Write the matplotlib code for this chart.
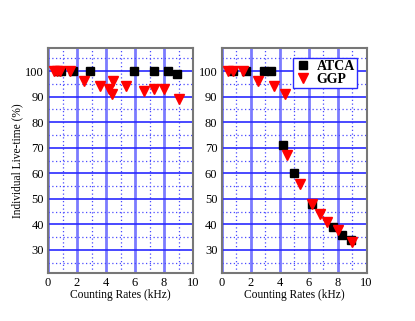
import numpy as np
import matplotlib
matplotlib.use("Agg")
import matplotlib.pyplot as plt
from matplotlib.ticker import MultipleLocator

plt.rcParams['font.family'] = ['Liberation Serif', 'DejaVu Serif']

# left panel
atca_x_l = [0.7, 0.9, 1.7, 2.9, 5.9, 7.3, 8.3, 8.9]
atca_y_l = [100, 100, 100, 100, 100, 100, 100, 99]
ggp_x_l = [0.4, 0.6, 0.8, 1.5, 2.5, 3.6, 4.2, 4.4, 4.5, 5.4, 6.6, 7.3, 8.0, 9.0]
ggp_y_l = [100, 100, 100, 100, 96, 94, 93, 91, 96, 94, 92, 93, 93, 89]

# right panel
atca_x_r = [0.8, 1.7, 2.9, 3.4, 4.2, 5.0, 6.2, 7.7, 8.3, 8.9]
atca_y_r = [100, 100, 100, 100, 71, 60, 48, 39, 36, 34]
ggp_x_r = [0.45, 0.8, 1.5, 2.5, 3.6, 4.4, 4.5, 5.4, 6.2, 6.8, 7.3, 8.0, 9.0]
ggp_y_r = [100, 100, 100, 96, 94, 91, 67, 56, 48, 44, 41, 38, 33]

fig = plt.figure(figsize=(4.15, 3.21), dpi=100)
ax1 = fig.add_axes([0.1157, 0.1495, 0.3494, 0.701])
ax2 = fig.add_axes([0.534, 0.1495, 0.3494, 0.701])


def style_axes(ax):
    ax.set_xlim(0, 10)
    ax.set_ylim(21, 109)
    ax.xaxis.set_major_locator(MultipleLocator(2))
    ax.xaxis.set_minor_locator(MultipleLocator(1))
    ax.yaxis.set_major_locator(MultipleLocator(10))
    ax.yaxis.set_minor_locator(MultipleLocator(5))
    ax.set_yticks(np.arange(30, 101, 10))
    ax.grid(axis='x', which='major', color='#7b7bff', linewidth=2.0)
    ax.grid(axis='y', which='major', color='#2a2aff', linewidth=1.2)
    ax.grid(which='minor', color='#4a4aff', linestyle=(0, (1, 2)), linewidth=0.9)
    ax.set_axisbelow(True)
    ax.tick_params(which='both', length=0, labelsize=9, pad=3)
    for sp in ax.spines.values():
        sp.set_color('#777777')
        sp.set_linewidth(1.5)
    ax.set_xlabel('Counting Rates (kHz)', fontsize=8.3, labelpad=0)


for ax, ax_, ay_, gx_, gy_ in [(ax1, atca_x_l, atca_y_l, ggp_x_l, ggp_y_l),
                               (ax2, atca_x_r, atca_y_r, ggp_x_r, ggp_y_r)]:
    style_axes(ax)
    ax.plot(ax_, ay_, 's', color='black', markersize=6, label='ATCA', zorder=3)
    ax.plot(gx_, gy_, 'v', color='red', markersize=7.5, label='GGP', zorder=4)

ax1.set_ylabel('Individual Live-time (%)', fontsize=8.3, labelpad=1)

leg = ax2.legend(loc='upper right', bbox_to_anchor=(0.935, 0.955), fancybox=False,
                 framealpha=1, edgecolor='#2a2aff', borderpad=0.15, handletextpad=0.4,
                 labelspacing=0.0, handlelength=1.2, borderaxespad=0,
                 prop={'size': 10, 'weight': 'bold'})
leg.get_frame().set_linewidth(1.0)

fig.savefig('out.png', dpi=100)
